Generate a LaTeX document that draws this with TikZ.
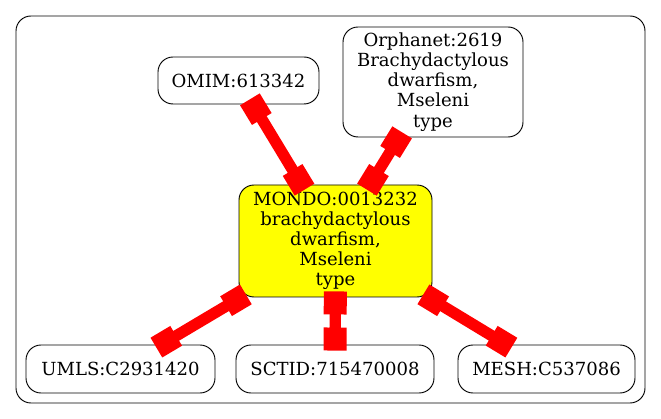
\documentclass[tikz,border=0pt]{standalone}
\usepackage{fontspec}
\setmainfont{DejaVu Serif}
\usepackage{tikz}
\usetikzlibrary{positioning,arrows.meta}
\definecolor{linkRed}{HTML}{FF0000}
\definecolor{mondoFill}{HTML}{FFFF00}

\begin{document}
\begin{tikzpicture}[
  term/.style={draw, rounded corners=0.45cm, line width=0.8pt, align=center, inner sep=0pt,
    font=\fontsize{15.4}{17.2}\selectfont},
  link/.style={draw=linkRed, line width=0.34cm,
    {Square[length=0.69cm,width=0.69cm]}-{Square[length=0.69cm,width=0.69cm]},
    shorten <=-0.18cm, shorten >=-0.18cm},
]
  \useasboundingbox (0,0) rectangle (19.83,-12.57);
  \draw[rounded corners=0.45cm, line width=0.8pt] (0.48,-0.48) rectangle (19.35,-12.09);

  \node[term, fill=mondoFill, minimum width=5.79cm, minimum height=3.36cm] (mondo) at (10.065,-7.23)
    {MONDO:0013232\\brachydactylous\\dwarfism,\\Mseleni\\type};
  \node[term, minimum width=4.83cm, minimum height=1.41cm] (omim) at (7.155,-2.415) {OMIM:613342};
  \node[term, minimum width=5.4cm, minimum height=3.3cm] (orpha) at (12.99,-2.46)
    {Orphanet:2619\\Brachydactylous\\dwarfism,\\Mseleni\\type};
  \node[term, minimum width=5.67cm, minimum height=1.44cm] (umls) at (3.615,-11.07) {UMLS:C2931420};
  \node[term, minimum width=5.94cm, minimum height=1.44cm] (sctid) at (10.05,-11.07) {SCTID:715470008};
  \node[term, minimum width=5.31cm, minimum height=1.44cm] (mesh) at (16.395,-11.07) {MESH:C537086};

  \draw[link] (omim) -- (mondo);
  \draw[link] (orpha) -- (mondo);
  \draw[link] (mondo) -- (umls);
  \draw[link] (mondo) -- (sctid);
  \draw[link] (mondo) -- (mesh);
\end{tikzpicture}
\end{document}
